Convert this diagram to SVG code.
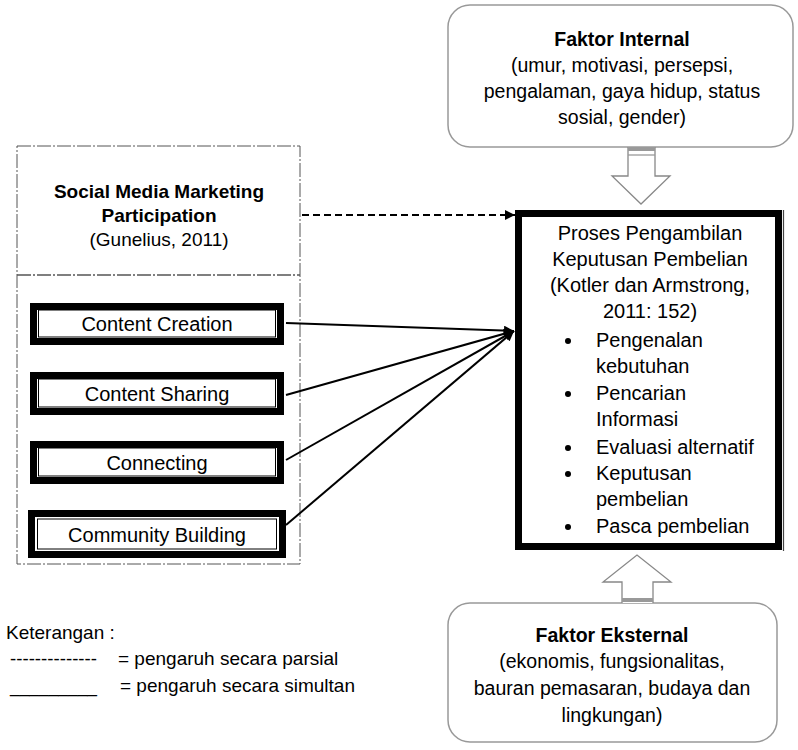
<svg xmlns="http://www.w3.org/2000/svg" width="798" height="750" viewBox="0 0 798 750">
<defs>
<style>
text{font-family:"Liberation Sans",Arial,sans-serif;fill:#000;}
.t{font-size:20px;text-anchor:middle;}
.f{font-size:19.5px;text-anchor:middle;}
.b{font-weight:bold;}
.l{font-size:19px;}
.rb{fill:#fff;stroke:#999;stroke-width:1.5;}
.ha{fill:#fff;stroke:#888;stroke-width:1.3;}
.vb{fill:#fff;stroke:#000;stroke-width:7;}
.vi{fill:none;stroke:#000;stroke-width:1;}
.c{stroke:#000;stroke-width:2;fill:none;}
</style>
<marker id="ah" viewBox="0 0 10 10" refX="10" refY="5" markerWidth="12" markerHeight="10" markerUnits="userSpaceOnUse" orient="auto">
<path d="M0,0 L10,5 L0,10 z" fill="#000"/>
</marker>
</defs>

<g id="smm-group">
<rect x="17" y="146" width="283" height="418" fill="none" stroke="#555" stroke-width="1" stroke-dasharray="14 2 2 2"/>
<line x1="17" y1="275" x2="300" y2="275" stroke="#555" stroke-width="1.4" stroke-dasharray="14 2 2 2"/>
<text class="f b" x="159" y="198" style="font-size:19px">Social Media Marketing</text>
<text class="f b" x="159" y="222" style="font-size:19px">Participation</text>
<text class="f" x="159" y="246" style="font-size:19px">(Gunelius, 2011)</text>
</g>

<g id="content-creation">
<rect class="vb" x="33.5" y="306.5" width="247" height="35"/>
<rect class="vi" x="38.5" y="310" width="237" height="27"/>
<text class="t" x="157" y="331">Content Creation</text>
</g>
<g id="content-sharing">
<rect class="vb" x="33.5" y="375.5" width="247" height="36"/>
<rect class="vi" x="38.5" y="379" width="237" height="28"/>
<text class="t" x="157" y="401">Content Sharing</text>
</g>
<g id="connecting">
<rect class="vb" x="33.5" y="444.5" width="247" height="36"/>
<rect class="vi" x="38.5" y="448" width="237" height="28"/>
<text class="t" x="157" y="470">Connecting</text>
</g>
<g id="community-building">
<rect class="vb" x="31.5" y="513.5" width="251" height="41"/>
<rect class="vi" x="37.5" y="519" width="239" height="30" stroke-width="1.5"/>
<text class="t" x="157" y="542">Community Building</text>
</g>

<g id="faktor-internal">
<rect class="rb" x="448" y="5" width="345" height="142" rx="22"/>
<text class="f b" x="622" y="46">Faktor Internal</text>
<text class="f" x="622" y="72">(umur, motivasi, persepsi,</text>
<text class="f" x="622" y="98">pengalaman, gaya hidup, status</text>
<text class="f" x="622" y="124">sosial, gender)</text>
</g>

<g id="proses">
<rect x="518.5" y="213.5" width="260" height="333" fill="#fff" stroke="#000" stroke-width="7"/>
<line x1="783.5" y1="210" x2="783.5" y2="551" stroke="#444" stroke-width="1.2"/>
<text class="t" x="650" y="240">Proses Pengambilan</text>
<text class="t" x="650" y="266">Keputusan Pembelian</text>
<text class="t" x="650" y="292">(Kotler dan Armstrong,</text>
<text class="t" x="650" y="318">2011: 152)</text>
<g style="font-size:20px">
<circle cx="568" cy="341" r="3"/>
<text x="596" y="347">Pengenalan</text>
<text x="596" y="373">kebutuhan</text>
<circle cx="568" cy="394" r="3"/>
<text x="596" y="400">Pencarian</text>
<text x="596" y="426">Informasi</text>
<circle cx="568" cy="448" r="3"/>
<text x="596" y="454">Evaluasi alternatif</text>
<circle cx="568" cy="474" r="3"/>
<text x="596" y="480">Keputusan</text>
<text x="596" y="506">pembelian</text>
<circle cx="568" cy="527" r="3"/>
<text x="596" y="533">Pasca pembelian</text>
</g>
</g>

<g id="faktor-eksternal">
<rect class="rb" x="448" y="603" width="329" height="139" rx="22"/>
<text class="f b" x="612" y="642">Faktor Eksternal</text>
<text class="f" x="612" y="668">(ekonomis, fungsionalitas,</text>
<text class="f" x="612" y="695">bauran pemasaran, budaya dan</text>
<text class="f" x="612" y="722">lingkungan)</text>
</g>

<g id="connectors">
<line class="c" x1="302" y1="215" x2="515" y2="215" stroke-dasharray="7 4" marker-end="url(#ah)"/>
<line class="c" x1="286" y1="323" x2="514" y2="331" marker-end="url(#ah)"/>
<line class="c" x1="286" y1="395" x2="514" y2="331" marker-end="url(#ah)"/>
<line class="c" x1="286" y1="460" x2="514" y2="331" marker-end="url(#ah)"/>
<line class="c" x1="286" y1="525" x2="514" y2="331" marker-end="url(#ah)"/>
<path class="ha" d="M628,147 L628,176 L612,176 L641,204 L670,176 L655,176 L655,147"/>
<rect x="628" y="147" width="27" height="4" fill="#999"/>
<line x1="628" y1="155" x2="655" y2="155" stroke="#999" stroke-width="1.3"/>
<path class="ha" d="M622,603 L622,582 L603,582 L637,555 L671,582 L653,582 L653,603"/>
<rect x="622" y="598" width="31" height="4" fill="#999"/>
</g>

<g id="legend">
<text class="l" x="6" y="639">Keterangan :</text>
<text class="l" x="10" y="665" textLength="87" lengthAdjust="spacingAndGlyphs">--------------</text>
<text class="l" x="118" y="665">= pengaruh secara parsial</text>
<text class="l" x="10" y="692" textLength="87" lengthAdjust="spacingAndGlyphs">_________</text>
<text class="l" x="120" y="692">= pengaruh secara simultan</text>
</g>
</svg>
